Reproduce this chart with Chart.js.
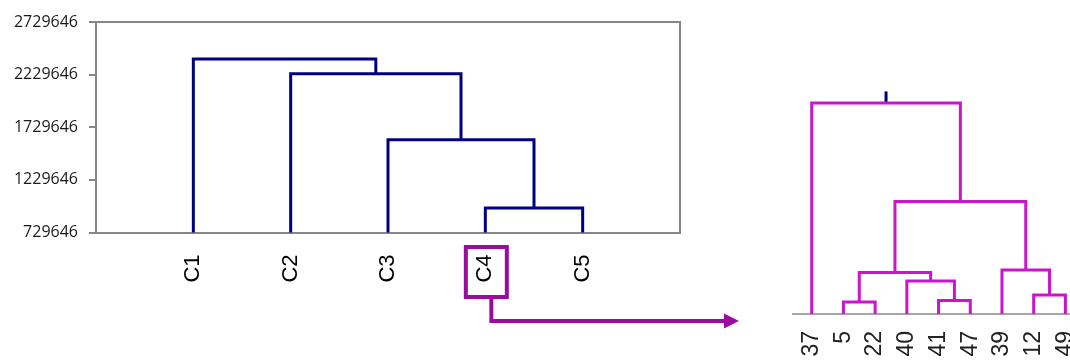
<!DOCTYPE html>
<html>
<head>
<meta charset="utf-8">
<script src="https://cdn.jsdelivr.net/npm/chart.js@4/dist/chart.umd.min.js"></script>
<style>
  html, body { margin: 0; padding: 0; background: #fff; }
  body { width: 1070px; height: 360px; overflow: hidden; position: relative; }
  #clusterChart { position: absolute; left: 0; top: 0; }
  #memberChart { position: absolute; left: 780px; top: 0; }
</style>
</head>
<body>
<canvas id="clusterChart" width="780" height="360"></canvas>
<canvas id="memberChart" width="330" height="360"></canvas>
<script>
// top level dendrogram (clusters)
const clusterLabels = ['C1', 'C2', 'C3', 'C4', 'C5'];
const heightTicks = [729646, 1229646, 1729646, 2229646, 2729646];
// each merge: [node a, node b, height]; leaves are 0..n-1, merged nodes get the next ids
const clusterMerges = [
    [3, 4, 962000],
    [2, 5, 1611000],
    [1, 6, 2238000],
    [0, 7, 2378000]
];

// zoomed dendrogram of cluster C4 (members)
const memberLabels = ['37', '5', '22', '40', '41', '47', '39', '12', '49'];
const memberMerges = [
    [1, 2, 12],
    [4, 5, 13.6],
    [3, 10, 33],
    [9, 11, 41.6],
    [7, 8, 19],
    [6, 13, 44],
    [12, 14, 112.6],
    [0, 15, 211]
];
const memberRootStub = [211, 222.6];

function dendroLinks(merges, leafCount, leafX, base) {
    const nodeX = [];
    const nodeY = [];
    for (let i = 0; i < leafCount; i++) {
        nodeX.push(leafX(i));
        nodeY.push(base);
    }
    const points = [];
    merges.forEach(([a, b, h]) => {
        points.push(
            { x: nodeX[a], y: nodeY[a] },
            { x: nodeX[a], y: h },
            { x: nodeX[b], y: h },
            { x: nodeX[b], y: nodeY[b] },
            { x: nodeX[b], y: null }
        );
        nodeX.push((nodeX[a] + nodeX[b]) / 2);
        nodeY.push(h);
    });
    return { points, rootX: nodeX[nodeX.length - 1] };
}

const GRAY = '#878787';
const NAVY = '#000080';
const MAGENTA = '#CC14CC';
const PURPLE = '#9C0C9C';

// gray box round the plot area (top and right sides, the axes draw the rest)
const framePlugin = {
    id: 'frame',
    beforeDatasetsDraw(chart) {
        const { ctx, chartArea: a } = chart;
        ctx.save();
        ctx.strokeStyle = GRAY;
        ctx.lineWidth = 2;
        ctx.beginPath();
        ctx.moveTo(a.left, a.top);
        ctx.lineTo(a.right, a.top);
        ctx.lineTo(a.right, a.bottom);
        ctx.stroke();
        ctx.restore();
    }
};

// box round the C4 label and the arrow pointing to the zoomed view
const calloutPlugin = {
    id: 'callout',
    afterDraw(chart) {
        const { ctx, chartArea: a } = chart;
        const cx = chart.scales.x.getPixelForValue(clusterLabels.indexOf('C4') + 1);
        const top = a.bottom + 14.5;
        const bottom = top + 50;
        ctx.save();
        ctx.strokeStyle = PURPLE;
        ctx.fillStyle = PURPLE;
        ctx.lineWidth = 4;
        ctx.strokeRect(cx - 19.5, top, 41, 50);
        const ax = cx + 6;
        const ay = bottom + 24;
        const tip = 739;
        ctx.beginPath();
        ctx.moveTo(ax, bottom);
        ctx.lineTo(ax, ay);
        ctx.lineTo(tip - 15, ay);
        ctx.stroke();
        ctx.beginPath();
        ctx.moveTo(tip - 15, ay - 7.5);
        ctx.lineTo(tip, ay);
        ctx.lineTo(tip - 15, ay + 7.5);
        ctx.closePath();
        ctx.fill();
        ctx.restore();
    }
};

document.addEventListener('DOMContentLoaded', function() {
    const clusterCtx = document.getElementById('clusterChart').getContext('2d');
    const memberCtx = document.getElementById('memberChart').getContext('2d');

    const clusterTree = dendroLinks(clusterMerges, clusterLabels.length, i => i + 1, heightTicks[0]);
    const memberTree = dendroLinks(memberMerges, memberLabels.length, i => i, 0);

    new Chart(clusterCtx, {
        type: 'line',
        data: {
            datasets: [{
                data: clusterTree.points,
                borderColor: NAVY,
                borderWidth: 3,
                pointRadius: 0,
                spanGaps: false,
                tension: 0,
                clip: false,
                borderJoinStyle: 'miter'
            }]
        },
        plugins: [framePlugin, calloutPlugin],
        options: {
            responsive: false,
            animation: false,
            devicePixelRatio: 1,
            layout: { padding: { top: 22, right: 100, bottom: 0, left: 0 } },
            plugins: {
                legend: { display: false },
                tooltip: { enabled: false }
            },
            scales: {
                x: {
                    type: 'linear',
                    min: 0,
                    max: clusterLabels.length + 1,
                    afterBuildTicks: s => { s.ticks = clusterLabels.map((_, i) => ({ value: i + 1 })); },
                    afterFit: s => { s.height = 127.5; },
                    grid: { display: false, drawTicks: false },
                    border: { color: GRAY, width: 2 },
                    ticks: {
                        autoSkip: false,
                        minRotation: 90,
                        maxRotation: 90,
                        padding: 22,
                        color: '#000',
                        font: { family: 'Liberation Sans', size: 22 },
                        callback: v => clusterLabels[v - 1]
                    }
                },
                y: {
                    type: 'linear',
                    min: heightTicks[0],
                    max: heightTicks[heightTicks.length - 1],
                    afterBuildTicks: s => { s.ticks = heightTicks.map(v => ({ value: v })); },
                    afterFit: s => { s.width = 96; },
                    grid: {
                        drawOnChartArea: false,
                        drawTicks: true,
                        tickLength: 7,
                        color: GRAY,
                        lineWidth: 2
                    },
                    border: { color: GRAY, width: 2 },
                    ticks: {
                        padding: 11,
                        color: '#1a1a1a',
                        font: { family: 'Open Sans', size: 16 },
                        callback: v => String(v)
                    }
                }
            }
        }
    });

    new Chart(memberCtx, {
        type: 'line',
        data: {
            datasets: [{
                data: memberTree.points,
                borderColor: MAGENTA,
                borderWidth: 3,
                pointRadius: 0,
                spanGaps: false,
                tension: 0,
                clip: false,
                borderJoinStyle: 'miter'
            }, {
                data: memberRootStub.map(h => ({ x: memberTree.rootX, y: h })),
                borderColor: NAVY,
                borderWidth: 3,
                pointRadius: 0,
                clip: false
            }]
        },
        options: {
            responsive: false,
            animation: false,
            devicePixelRatio: 1,
            layout: { padding: { top: 79, right: 0, bottom: 0, left: 13 } },
            plugins: {
                legend: { display: false },
                tooltip: { enabled: false }
            },
            scales: {
                x: {
                    type: 'linear',
                    min: -0.59,
                    max: -0.59 + 317 / 31.75,
                    afterBuildTicks: s => { s.ticks = memberLabels.map((_, i) => ({ value: i })); },
                    afterFit: s => { s.height = 46; },
                    grid: { display: false, drawTicks: false },
                    border: { color: '#A6A6A6', width: 2 },
                    ticks: {
                        autoSkip: false,
                        minRotation: 90,
                        maxRotation: 90,
                        padding: 17,
                        color: '#222',
                        font: { family: 'Liberation Sans', size: 23 },
                        callback: v => memberLabels[v]
                    }
                },
                y: {
                    display: false,
                    min: 0,
                    max: 235
                }
            }
        }
    });
});
</script>
</body>
</html>
